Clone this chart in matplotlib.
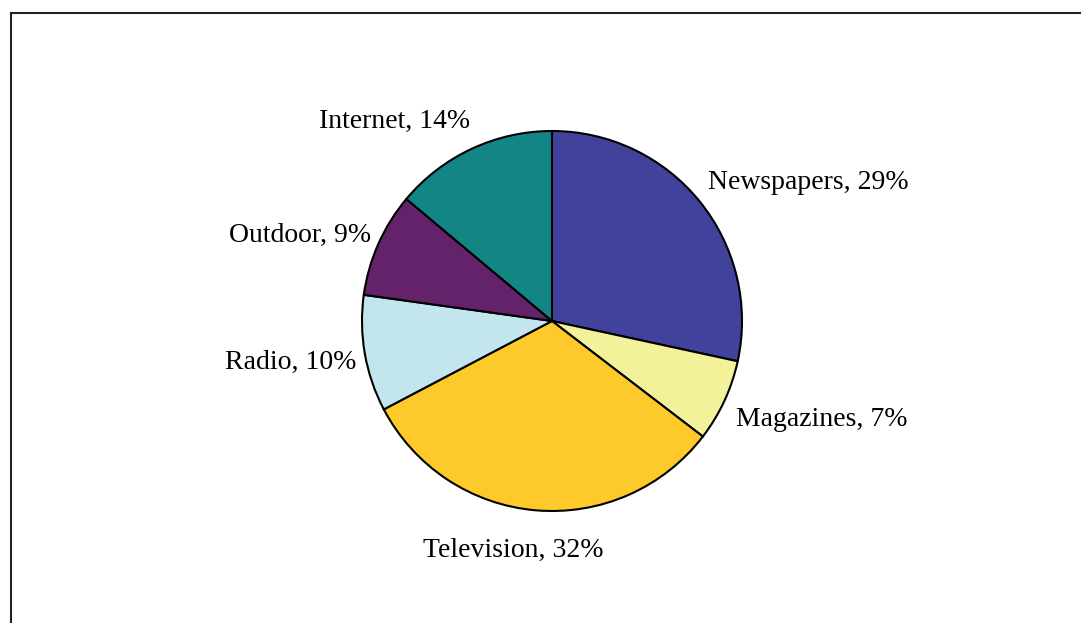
import numpy as np
import matplotlib.pyplot as plt
from matplotlib.lines import Line2D

# media share data
categories = ['Newspapers', 'Magazines', 'Television', 'Radio', 'Outdoor', 'Internet']
shares = [28.4, 7.0, 31.9, 9.9, 8.9, 13.9]
pct_labels = ['29%', '7%', '32%', '10%', '9%', '14%']
colors = ['#41429b', '#f4f19b', '#fdc92b', '#c3e6ee', '#63226a', '#138585']

W, H = 1081, 623
fig = plt.figure(figsize=(W / 100, H / 100), dpi=100)
ax = fig.add_axes([0, 0, 1, 1])

cx, cy, R = 552, 321, 190  # pixel layout of the pie
wedges, _ = ax.pie(shares, colors=colors, startangle=90, counterclock=False,
                   radius=1, wedgeprops=dict(edgecolor='black', linewidth=1.5))
ax.set_aspect('auto')
ax.set_xlim(-cx / R, (W - cx) / R)
ax.set_ylim(-(H - cy) / R, cy / R)
ax.axis('off')

# small pixel nudges (x right, y down) to match label placement
nudge = [(-4, -10), (-2, 12), (-21, 12), (7, 6), (7, -2), (5, -1)]

for w, cat, p, (ndx, ndy) in zip(wedges, categories, pct_labels, nudge):
    ang = np.deg2rad((w.theta1 + w.theta2) / 2)
    c, s = np.cos(ang), np.sin(ang)
    ha = 'left' if c > 0.3 else ('right' if c < -0.3 else 'center')
    va = 'center'
    if s < -0.8:
        va = 'top'
    elif s > 0.8:
        va = 'bottom'
    r = 1.08
    ax.text(r * c + ndx / R, r * s - ndy / R, cat + ', ' + p, ha=ha, va=va,
            fontsize=20, family='Liberation Serif')

# frame lines (left and top)
x0 = 10.5 / W
y0 = 1 - 12.5 / H
fig.add_artist(Line2D([x0, x0], [0, y0], color='#222222', lw=1.5,
                      transform=fig.transFigure))
fig.add_artist(Line2D([x0, 1], [y0, y0], color='#222222', lw=1.5,
                      transform=fig.transFigure))

fig.savefig('out.png', dpi=100)
